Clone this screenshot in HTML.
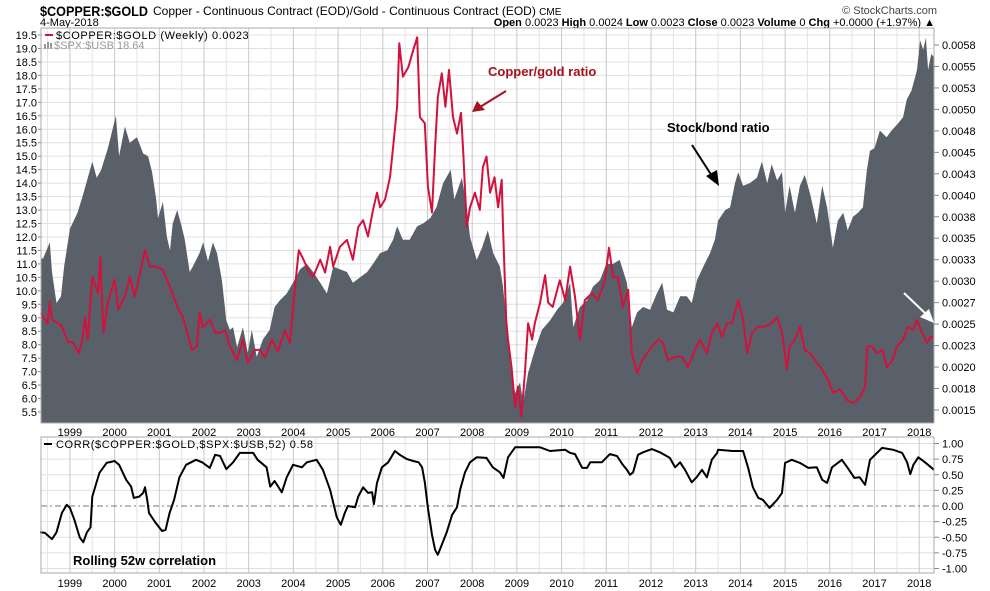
<!DOCTYPE html>
<html><head><meta charset="utf-8">
<style>
html,body{margin:0;padding:0;background:#fff;}
body{width:990px;height:591px;overflow:hidden;position:relative;font-family:"Liberation Sans",sans-serif;}
svg{position:absolute;left:0;top:0;}
</style></head>
<body>
<svg id="chart" width="990" height="591" xmlns="http://www.w3.org/2000/svg">
  <text x="40" y="16" font-size="14" font-weight="bold" fill="#000" textLength="108" lengthAdjust="spacingAndGlyphs">$COPPER:$GOLD</text>
  <text x="153" y="15" font-size="12" fill="#000">Copper - Continuous Contract (EOD)/Gold - Continuous Contract (EOD) <tspan font-size="10">CME</tspan></text>
  <text x="937" y="14" font-size="11" fill="#444" text-anchor="end">© StockCharts.com</text>
  <text x="40" y="26" font-size="11" fill="#000">4-May-2018</text>
  <text x="935" y="26" font-size="11" fill="#000" text-anchor="end"><tspan font-weight="bold">Open</tspan> 0.0023  <tspan font-weight="bold">High</tspan> 0.0024  <tspan font-weight="bold">Low</tspan> 0.0023  <tspan font-weight="bold">Close</tspan> 0.0023  <tspan font-weight="bold">Volume</tspan> 0  <tspan font-weight="bold">Chg</tspan> +0.0000 (+1.97%) ▲</text>
  <g id="main"></g>
  <g id="lower"></g>
</svg>
<script>
// ---- data: SPX:USB (stock/bond ratio, left axis)
const spxT=[1998.35,1998.4,1998.55,1998.6,1998.7,1998.8,1998.87,1999.0,1999.17,1999.3,1999.5,1999.6,1999.7,1999.85,2000.03,2000.1,2000.23,2000.34,2000.5,2000.64,2000.75,2000.84,2000.93,2000.97,2001.08,2001.17,2001.24,2001.3,2001.4,2001.5,2001.57,2001.68,2001.75,2001.9,2001.98,2002.09,2002.2,2002.29,2002.4,2002.5,2002.58,2002.65,2002.74,2002.87,2002.98,2003.07,2003.18,2003.32,2003.47,2003.58,2003.7,2003.85,2003.99,2004.15,2004.3,2004.44,2004.6,2004.75,2004.89,2005.04,2005.2,2005.33,2005.49,2005.65,2005.78,2005.94,2006.1,2006.23,2006.32,2006.45,2006.6,2006.77,2006.9,2007.06,2007.2,2007.35,2007.52,2007.6,2007.77,2007.88,2007.95,2008.1,2008.22,2008.35,2008.47,2008.62,2008.69,2008.78,2008.85,2008.96,2009.07,2009.14,2009.25,2009.4,2009.56,2009.74,2009.9,2010.03,2010.19,2010.26,2010.41,2010.57,2010.7,2010.86,2011.0,2011.15,2011.3,2011.46,2011.57,2011.69,2011.82,2011.98,2012.13,2012.25,2012.36,2012.5,2012.65,2012.8,2012.91,2013.03,2013.17,2013.32,2013.43,2013.5,2013.66,2013.77,2013.88,2013.95,2014.06,2014.21,2014.37,2014.48,2014.6,2014.7,2014.82,2014.93,2015.0,2015.1,2015.22,2015.33,2015.44,2015.56,2015.71,2015.83,2015.94,2016.07,2016.18,2016.3,2016.4,2016.52,2016.63,2016.74,2016.83,2016.9,2017.0,2017.12,2017.27,2017.38,2017.52,2017.64,2017.72,2017.83,2017.95,2018.02,2018.09,2018.15,2018.2,2018.27,2018.34];
const spxV=[11.2,11.2,11.8,10.7,9.55,9.8,10.9,12.3,12.9,13.6,14.8,14.2,14.5,15.3,16.5,15.0,16.1,15.5,15.7,15.1,15.0,14.4,13.4,12.7,13.3,12.0,11.5,12.5,13.0,12.4,11.9,10.7,10.9,11.4,11.8,11.1,11.8,11.4,10.4,8.9,8.55,8.65,7.9,8.65,7.7,8.55,7.55,8.2,8.55,9.4,9.65,9.9,10.3,10.8,11.0,10.7,10.3,9.9,10.9,10.8,10.7,10.3,10.5,10.7,11.0,11.4,11.5,11.9,12.4,11.9,11.9,12.4,12.5,12.7,13.1,14.0,14.5,13.4,14.2,13.1,12.0,11.15,11.6,12.25,11.4,10.9,10.15,8.65,7.3,6.2,6.6,5.85,6.95,7.8,8.55,8.9,9.3,9.55,10.3,8.65,9.4,9.65,10.15,10.4,11.0,11.0,11.15,10.3,8.65,9.2,9.4,9.3,9.9,10.3,9.3,9.2,9.8,9.8,9.55,10.4,10.9,11.4,11.9,12.6,13.0,13.1,14.0,14.4,13.9,14.0,14.2,14.8,14.0,14.7,14.1,14.4,12.9,13.9,12.9,13.9,14.3,13.6,12.5,13.9,13.1,11.6,12.6,12.9,12.25,12.75,12.9,13.1,14.5,15.2,15.3,15.95,15.7,15.95,16.2,16.45,17.1,17.45,18.2,19.3,18.95,19.4,18.2,18.8,18.65];
// ---- data: Copper/Gold ratio (right axis)
const cgT=[1998.35,1998.5,1998.55,1998.6,1998.8,1998.87,1998.95,1999.07,1999.2,1999.28,1999.34,1999.4,1999.5,1999.55,1999.63,1999.68,1999.75,1999.85,2000.0,2000.08,2000.23,2000.34,2000.45,2000.57,2000.68,2000.79,2000.94,2001.08,2001.24,2001.4,2001.53,2001.62,2001.73,2001.84,2001.9,2001.97,2002.13,2002.25,2002.36,2002.47,2002.58,2002.74,2002.87,2002.98,2003.14,2003.25,2003.36,2003.52,2003.65,2003.81,2003.92,2004.03,2004.12,2004.2,2004.33,2004.44,2004.6,2004.71,2004.82,2004.89,2005.04,2005.2,2005.33,2005.45,2005.56,2005.67,2005.78,2005.87,2005.94,2006.05,2006.16,2006.23,2006.32,2006.37,2006.45,2006.57,2006.68,2006.77,2006.83,2006.94,2007.01,2007.1,2007.17,2007.23,2007.32,2007.4,2007.48,2007.57,2007.66,2007.75,2007.8,2007.88,2007.95,2008.06,2008.17,2008.24,2008.32,2008.4,2008.5,2008.58,2008.66,2008.69,2008.76,2008.8,2008.88,2008.96,2009.02,2009.1,2009.18,2009.25,2009.34,2009.4,2009.52,2009.63,2009.7,2009.8,2009.96,2010.08,2010.19,2010.3,2010.41,2010.52,2010.68,2010.81,2010.97,2011.06,2011.15,2011.26,2011.37,2011.49,2011.57,2011.69,2011.8,2011.91,2012.02,2012.16,2012.27,2012.38,2012.54,2012.69,2012.83,2012.98,2013.1,2013.25,2013.36,2013.48,2013.59,2013.7,2013.81,2013.95,2014.06,2014.15,2014.26,2014.39,2014.54,2014.7,2014.82,2014.93,2015.04,2015.1,2015.22,2015.33,2015.44,2015.56,2015.71,2015.83,2015.96,2016.07,2016.23,2016.38,2016.52,2016.68,2016.79,2016.84,2016.94,2017.06,2017.17,2017.28,2017.4,2017.5,2017.64,2017.75,2017.86,2017.95,2018.06,2018.18,2018.25,2018.34];
const cgV=[0.00263,0.00251,0.00276,0.00255,0.00249,0.00241,0.00229,0.00229,0.00216,0.00232,0.00258,0.00232,0.00305,0.00298,0.00286,0.00328,0.0024,0.00275,0.00302,0.00267,0.00282,0.00305,0.00282,0.0031,0.00336,0.00317,0.00317,0.00313,0.00293,0.0027,0.00258,0.00241,0.0022,0.00224,0.00264,0.00246,0.00255,0.0024,0.0024,0.00243,0.00224,0.00208,0.00232,0.00205,0.0022,0.0022,0.00211,0.00232,0.00218,0.00243,0.00228,0.0029,0.00336,0.00328,0.00313,0.00305,0.00325,0.0031,0.0034,0.00317,0.0034,0.00348,0.00325,0.00363,0.00371,0.00352,0.00383,0.00403,0.00386,0.00395,0.00421,0.00456,0.00503,0.00577,0.00538,0.00549,0.00569,0.00584,0.00491,0.00484,0.0041,0.0038,0.00456,0.00514,0.00542,0.00503,0.00546,0.00491,0.00472,0.00496,0.00449,0.00363,0.00386,0.00403,0.00383,0.00433,0.00445,0.00403,0.00421,0.00386,0.00418,0.00363,0.00255,0.00232,0.002,0.00154,0.00177,0.00142,0.00193,0.00251,0.00232,0.00251,0.00275,0.00307,0.00275,0.0027,0.00301,0.00278,0.00317,0.00282,0.00232,0.00278,0.00286,0.00278,0.00301,0.00339,0.00305,0.00305,0.0027,0.0029,0.00216,0.00193,0.00208,0.00216,0.00224,0.00232,0.00228,0.00208,0.00212,0.00212,0.002,0.0022,0.00232,0.00216,0.0024,0.00251,0.00235,0.00251,0.00251,0.00278,0.00255,0.00216,0.0024,0.00247,0.00247,0.00251,0.00258,0.0024,0.00197,0.00224,0.00232,0.00247,0.0022,0.00216,0.00205,0.00197,0.00185,0.0017,0.00174,0.00162,0.00158,0.00165,0.00177,0.00224,0.00224,0.00216,0.0022,0.002,0.00208,0.00224,0.00232,0.00247,0.00243,0.00255,0.0024,0.00228,0.00235,0.00235];
// ---- data: rolling 52w correlation
const corrT=[1998.33,1998.44,1998.6,1998.7,1998.82,1998.93,1999.0,1999.1,1999.22,1999.3,1999.38,1999.46,1999.5,1999.66,1999.82,2000.0,2000.1,2000.26,2000.37,2000.43,2000.55,2000.64,2000.68,2000.73,2000.77,2000.92,2001.06,2001.14,2001.23,2001.33,2001.45,2001.6,2001.82,2001.96,2002.13,2002.25,2002.36,2002.5,2002.65,2002.8,2003.1,2003.2,2003.4,2003.48,2003.58,2003.74,2003.85,2003.99,2004.19,2004.3,2004.52,2004.66,2004.82,2004.97,2005.06,2005.15,2005.22,2005.38,2005.45,2005.56,2005.67,2005.76,2005.8,2005.87,2005.98,2006.12,2006.27,2006.38,2006.54,2006.68,2006.8,2006.88,2006.94,2007.01,2007.1,2007.17,2007.23,2007.32,2007.43,2007.55,2007.66,2007.73,2007.84,2007.95,2008.1,2008.32,2008.46,2008.62,2008.7,2008.8,2008.96,2009.23,2009.52,2009.74,2010.08,2010.19,2010.3,2010.46,2010.57,2010.64,2010.9,2011.08,2011.24,2011.37,2011.46,2011.53,2011.6,2011.71,2011.82,2012.02,2012.2,2012.42,2012.54,2012.65,2012.76,2012.91,2013.02,2013.14,2013.25,2013.36,2013.48,2013.5,2013.83,2014.06,2014.17,2014.28,2014.4,2014.5,2014.65,2014.82,2014.93,2015.0,2015.15,2015.33,2015.52,2015.71,2015.83,2015.94,2016.05,2016.27,2016.4,2016.55,2016.67,2016.79,2016.9,2017.17,2017.42,2017.62,2017.73,2017.8,2017.87,2017.98,2018.13,2018.33];
const corrV=[-0.42,-0.43,-0.53,-0.42,-0.11,0.02,-0.03,-0.22,-0.5,-0.58,-0.42,-0.34,0.15,0.53,0.69,0.72,0.66,0.42,0.31,0.13,0.15,0.21,0.3,0.1,-0.11,-0.27,-0.4,-0.38,-0.11,0.1,0.46,0.66,0.74,0.7,0.61,0.82,0.8,0.59,0.7,0.85,0.85,0.74,0.62,0.31,0.4,0.22,0.46,0.66,0.62,0.7,0.74,0.58,0.26,-0.18,-0.3,-0.11,0.0,-0.02,0.15,0.3,0.21,0.22,0.03,0.37,0.62,0.7,0.88,0.82,0.75,0.72,0.7,0.62,0.38,-0.03,-0.46,-0.7,-0.78,-0.62,-0.42,-0.14,-0.02,0.26,0.54,0.7,0.78,0.77,0.62,0.54,0.45,0.78,0.94,0.94,0.94,0.88,0.9,0.85,0.83,0.61,0.61,0.7,0.7,0.83,0.8,0.66,0.58,0.5,0.54,0.82,0.86,0.91,0.86,0.77,0.62,0.7,0.58,0.38,0.46,0.58,0.46,0.74,0.85,0.9,0.88,0.88,0.62,0.3,0.13,0.1,-0.03,0.1,0.21,0.69,0.74,0.69,0.61,0.62,0.42,0.37,0.62,0.74,0.61,0.45,0.46,0.34,0.74,0.93,0.9,0.85,0.7,0.51,0.66,0.78,0.7,0.58];
const years=[1999,2000,2001,2002,2003,2004,2005,2006,2007,2008,2009,2010,2011,2012,2013,2014,2015,2016,2017,2018];
const leftTicks=[19.5,19,18.5,18,17.5,17,16.5,16,15.5,15,14.5,14,13.5,13,12.5,12,11.5,11,10.5,10,9.5,9,8.5,8,7.5,7,6.5,6,5.5];
const rightLabels=['0.0058','0.0055','0.0053','0.0050','0.0048','0.0045','0.0043','0.0040','0.0038','0.0035','0.0033','0.0030','0.0027','0.0025','0.0023','0.0020','0.0018','0.0015'];
const rightTickVals=[0.00575,0.0055,0.00525,0.005,0.00475,0.0045,0.00425,0.004,0.00375,0.0035,0.00325,0.003,0.00275,0.0025,0.00225,0.002,0.00175,0.0015];
const corrTicks=[1,0.75,0.5,0.25,0,-0.25,-0.5,-0.75,-1];

const NS='http://www.w3.org/2000/svg';
const PL=41,PR=934,MT=28,MB=423,LT=437,LB=573;
const X=t=>651+(t-2012)*44.7;
const YL=v=>35+(19.5-v)*26.93;
const YR=c=>45+(0.00575-c)/0.00025*21.47;
const YC=r=>506-r*62.5;
function el(tag,attrs,parent){const e=document.createElementNS(NS,tag);for(const k in attrs)e.setAttribute(k,attrs[k]);parent.appendChild(e);return e;}
const main=document.getElementById('main'),lower=document.getElementById('lower');

el('rect',{x:PL,y:MT,width:PR-PL,height:MB-MT,fill:'#fff'},main);
leftTicks.forEach(v=>{
  const y=YL(v);
  const g=el('line',{x1:PL,x2:PR,y1:y,y2:y,stroke:'#e0e0e0','stroke-width':1},main);
  
  
  const t=el('text',{x:37,y:y+4,'font-size':11,'text-anchor':'end',fill:'#000'},main);
  
  
  t.textContent=v.toFixed(1);
  el('line',{x1:38,x2:PL,y1:y,y2:y,stroke:'#888'},main);
});
years.forEach(yr=>{
  const x=X(yr);
  const g=el('line',{x1:x,x2:x,y1:MT,y2:MB,stroke:'#c8c8c8'},main);
  
  
  const xm=X(yr-0.5);
  if(xm>PL) el('line',{x1:xm,x2:xm,y1:MT,y2:MB,stroke:'#e4e4e4'},main);
  const t=el('text',{x:x,y:436,'font-size':11,'text-anchor':'middle',fill:'#000'},main);
  
  
  t.textContent=yr;
});
let d='M'+X(spxT[0])+','+MB;
spxT.forEach((t,i)=>{d+=' L'+X(t).toFixed(1)+','+YL(spxV[i]).toFixed(1);});
d+=' L'+X(spxT[spxT.length-1]).toFixed(1)+','+MB+' Z';
const area=el('path',{d:d,fill:'#59606a'},main);


let p='';
cgT.forEach((t,i)=>{p+=(i?' L':'M')+X(t).toFixed(1)+','+YR(cgV[i]).toFixed(1);});
const red=el('path',{d:p,fill:'none',stroke:'#d2123c','stroke-width':2,'stroke-linejoin':'round'},main);


el('rect',{x:PL,y:MT,width:PR-PL,height:MB-MT,fill:'none',stroke:'#aaa'},main);
rightTickVals.forEach((c,i)=>{
  const y=YR(c);
  el('line',{x1:PR,x2:PR+5,y1:y,y2:y,stroke:'#888'},main);
  const t=el('text',{x:942,y:y+4,'font-size':11,fill:'#000'},main);
  
  
  t.textContent=rightLabels[i];
});
el('line',{x1:45,x2:53,y1:35,y2:35,stroke:'#d2123c','stroke-width':2},main);
let lt=el('text',{x:56,y:39,'font-size':11,fill:'#000','letter-spacing':'0.6'},main);


lt.textContent='$COPPER:$GOLD (Weekly) 0.0023';
el('rect',{x:44,y:44,width:2,height:5,fill:'#999'},main);
el('rect',{x:47,y:42,width:2,height:7,fill:'#999'},main);
el('rect',{x:50,y:43,width:2,height:6,fill:'#999'},main);
lt=el('text',{x:54,y:49,'font-size':11,fill:'#999'},main);


lt.textContent='$SPX:$USB 18.64';
let a=el('text',{x:488,y:76,'font-size':13,'font-weight':'bold',fill:'#a5121e'},main);


a.textContent='Copper/gold ratio';
el('line',{x1:506,y1:91,x2:480,y2:107,stroke:'#a5121e','stroke-width':2},main);
el('polygon',{points:'472,112 477,101 485,110',fill:'#a5121e'},main);
a=el('text',{x:667,y:132,'font-size':13,'font-weight':'bold',fill:'#000'},main);


a.textContent='Stock/bond ratio';
el('line',{x1:692,y1:145,x2:712,y2:176,stroke:'#000','stroke-width':2},main);
el('polygon',{points:'719,186 706,176 717,170',fill:'#000'},main);
el('line',{x1:904,y1:293,x2:926,y2:314,stroke:'#fff','stroke-width':2},main);
el('polygon',{points:'934,323 920,317 929,309',fill:'#fff'},main);

el('rect',{x:PL,y:LT,width:PR-PL,height:LB-LT,fill:'#fff'},lower);
corrTicks.forEach(r=>{
  const y=YC(r);
  if(r!==0){const g=el('line',{x1:PL,x2:PR,y1:y,y2:y,stroke:'#e0e0e0'},lower);
    
    }
  el('line',{x1:PR,x2:PR+5,y1:y,y2:y,stroke:'#888'},lower);
  const t=el('text',{x:942,y:y+4,'font-size':11,fill:'#000'},lower);
  
  
  t.textContent=(r<0?'-':'')+Math.abs(r).toFixed(2);
});
years.forEach(yr=>{
  const x=X(yr);
  el('line',{x1:x,x2:x,y1:LT,y2:LB,stroke:'#c8c8c8'},lower);
  const xm=X(yr-0.5);
  if(xm>PL) el('line',{x1:xm,x2:xm,y1:LT,y2:LB,stroke:'#e4e4e4'},lower);
  const t=el('text',{x:x,y:587,'font-size':11,'text-anchor':'middle',fill:'#000'},lower);
  
  
  t.textContent=yr;
});
const zl=el('line',{x1:PL,x2:PR,y1:YC(0),y2:YC(0),stroke:'#777','stroke-dasharray':'6,3,2,3'},lower);


let cp='';
corrT.forEach((t,i)=>{cp+=(i?' L':'M')+X(t).toFixed(1)+','+YC(corrV[i]).toFixed(1);});
const cl=el('path',{d:cp,fill:'none',stroke:'#000','stroke-width':2,'stroke-linejoin':'round'},lower);


el('rect',{x:PL,y:LT,width:PR-PL,height:LB-LT,fill:'none',stroke:'#aaa'},lower);
el('line',{x1:44,x2:52,y1:444,y2:444,stroke:'#000','stroke-width':2},lower);
let ct=el('text',{x:56,y:448,'font-size':11,fill:'#000','letter-spacing':'0.6'},lower);


ct.textContent='CORR($COPPER:$GOLD,$SPX:$USB,52) 0.58';
ct=el('text',{x:73,y:565,'font-size':13,'font-weight':'bold',fill:'#000'},lower);


ct.textContent='Rolling 52w correlation';
</script>
</body></html>
